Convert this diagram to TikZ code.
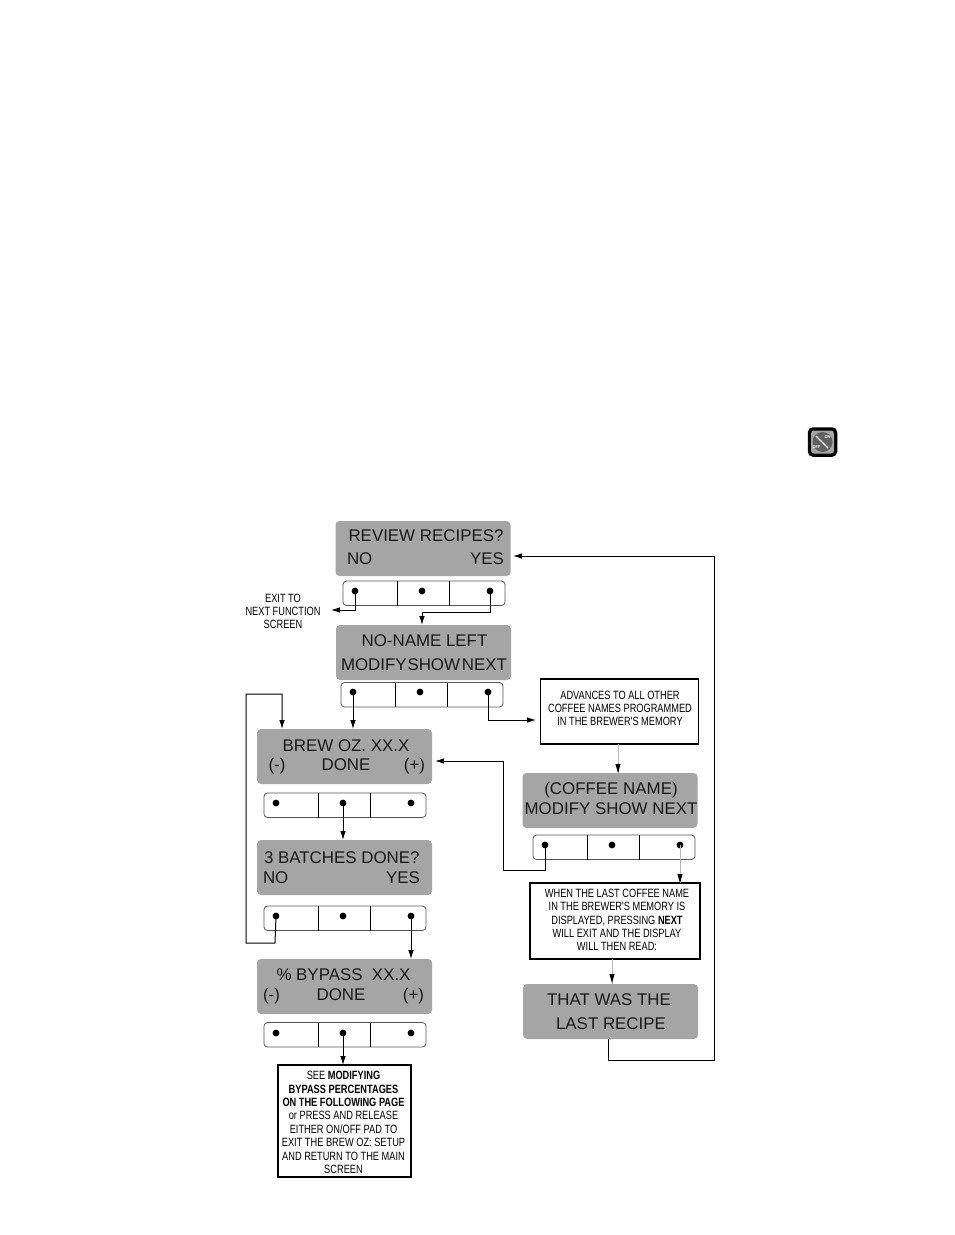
\documentclass[tikz,border=0pt]{standalone}
\usepackage{fontspec}
\usetikzlibrary{arrows.meta,calc}
\setmainfont{Liberation Sans}
\newfontfamily\narrowfont[FakeStretch=0.77]{Liberation Sans}
\definecolor{lcd}{HTML}{A5A5A5}
\definecolor{keyedge}{HTML}{555555}
\definecolor{faint}{HTML}{B8B8B8}
\tikzset{
  every node/.style={outer sep=0pt},
  lcdbox/.style={fill=lcd,rounded corners=4pt,minimum width=#1,minimum height=55pt,inner sep=0pt,anchor=north west},
  lcdbox/.default=175pt,
  lcdtext/.style={font=\fontsize{16.9}{20}\selectfont,text=black!90,inner sep=0pt,anchor=base},
  lcdleft/.style={lcdtext,anchor=base west},
  lcdright/.style={lcdtext,anchor=base east},
  keyframe/.style={draw=keyedge,line width=.8pt,rounded corners=3.5pt,minimum width=162pt,minimum height=24.5pt,inner sep=0pt,anchor=north west},
  keydiv/.style={draw=black,line width=.9pt},
  keydot/.style={circle,fill=black,minimum size=6.8pt,inner sep=0pt},
  notebox/.style={draw=black,fill=white,line width=1.8pt,inner sep=0pt,anchor=north west},
  notetext/.style={inner sep=0pt,align=center,text=black,font=\narrowfont\fontsize{12}{13.35}\selectfont},
  smalltext/.style={inner sep=0pt,align=center,text=black,font=\narrowfont\fontsize{12}{13.2}\selectfont},
  flow/.style={draw=black,line width=1pt,-{Latex[length=9pt,width=5.6pt]}},
  flowfaint/.style={draw=faint,line width=.8pt},
  tipfaint/.style={draw=none,fill=black},
}
\newcommand{\keypad}[4]{% name, left x, top y, dot y
  \node[keyframe] (#1) at (#2,#3) {};
  \draw[keydiv] ($(#1.north west)+(54.5,0)$) -- ($(#1.south west)+(54.5,0)$);
  \draw[keydiv] ($(#1.north west)+(106.5,0)$) -- ($(#1.south west)+(106.5,0)$);
  \node[keydot] (#1a) at ($(#2,#4)+(12,0)$) {};
  \node[keydot] (#1b) at ($(#2,#4)+(79,0)$) {};
  \node[keydot] (#1c) at ($(#2,#4)+(147,0)$) {};
}
\begin{document}
\begin{tikzpicture}[x=1pt,y=-1pt]
\useasboundingbox (0,0) rectangle (954,1235);
% icon
\node[fill=black,rounded corners=5pt,minimum size=29.5pt,inner sep=0pt] (ico) at (822.5,442) {};
\node[fill=gray!70,rounded corners=3pt,minimum size=23pt,inner sep=0pt] (icoin) at (ico) {};
\node[circle,fill=black!62,minimum size=20pt,inner sep=0pt] (icoc) at (ico) {};
\draw[white,line width=1.4pt] (816,436) -- (828,448);
\node[inner sep=0pt,text=white,font=\bfseries\fontsize{4}{4}\selectfont] (icoon) at (827.5,437.5) {ON};
\node[inner sep=0pt,text=white,font=\bfseries\fontsize{4}{4}\selectfont] (icooff) at (816.5,447.5) {OFF};
% screens
\node[lcdbox] (s1) at (335.5,521) {};
\node[lcdtext] (s1t) at (426,541) {REVIEW RECIPES?};
\node[lcdleft] (s1l) at (347,564) {NO};
\node[lcdright] (s1r) at (504,564) {YES};
\keypad{ka}{343}{581}{591}
\node[lcdbox] (s2) at (336,625) {};
\node[lcdtext] (s2t) at (424.5,646) {NO-NAME LEFT};
\node[lcdleft] (s2l) at (341,670) {MODIFY};
\node[lcdleft] (s2m) at (407.5,670) {SHOW};
\node[lcdright] (s2r) at (507,670) {NEXT};
\keypad{kb}{341}{682.5}{692}
\node[lcdbox] (s3) at (257,729) {};
\node[lcdtext] (s3t) at (346,751) {BREW OZ. XX.X};
\node[lcdleft] (s3l) at (268.5,770) {(-)};
\node[lcdtext] (s3m) at (346,770) {DONE};
\node[lcdright] (s3r) at (425,770) {(+)};
\keypad{kc}{264}{793}{803}
\node[lcdbox] (s4) at (257,840) {};
\node[lcdleft] (s4t) at (264,863) {3 BATCHES DONE?};
\node[lcdleft] (s4l) at (263,883) {NO};
\node[lcdright] (s4r) at (420,883) {YES};
\keypad{kd}{264}{906}{916}
\node[lcdbox] (s5) at (257,959) {};
\node[lcdtext] (s5t) at (343.5,980) {\%\ BYPASS\ \ XX.X};
\node[lcdleft] (s5l) at (263,1000) {(-)};
\node[lcdtext] (s5m) at (341,1000) {DONE};
\node[lcdright] (s5r) at (424,1000) {(+)};
\keypad{ke}{264}{1022.5}{1033}
\node[lcdbox] (s6) at (522.5,773) {};
\node[lcdtext] (s6t) at (611,794.5) {(COFFEE NAME)};
\node[lcdtext] (s6b) at (611,814) {MODIFY SHOW NEXT};
\keypad{kf}{533}{835}{845}
\node[lcdbox] (s7) at (523,984) {};
\node[lcdtext] (s7t) at (609,1005) {THAT WAS THE};
\node[lcdtext] (s7b) at (611,1029) {LAST RECIPE};
% notes
\node[notebox,minimum width=158pt,minimum height=65pt] (na) at (540.5,679) {};
\node[notetext] (nat) at (620,708.5) {ADVANCES TO ALL OTHER\\COFFEE NAMES PROGRAMMED\\IN THE BREWER'S MEMORY};
\node[notebox,minimum width=170pt,minimum height=76pt] (nb) at (530,883) {};
\node[notetext] (nbt) at (617,920) {WHEN THE LAST COFFEE NAME\\IN THE BREWER'S MEMORY IS\\DISPLAYED, PRESSING \textbf{NEXT}\\WILL EXIT AND THE DISPLAY\\WILL THEN READ:};
\node[notebox,line width=1.4pt,minimum width=133pt,minimum height=112pt] (nc) at (278,1065) {};
\node[notetext] (nct) at (343.5,1122.5) {SEE \textbf{MODIFYING}\\\textbf{BYPASS PERCENTAGES}\\\textbf{ON THE FOLLOWING PAGE}\\or PRESS AND RELEASE\\EITHER ON/OFF PAD TO\\EXIT THE BREW OZ: SETUP\\AND RETURN TO THE MAIN\\SCREEN};
\node[smalltext] (exit) at (283,611.5) {EXIT TO\\NEXT FUNCTION\\SCREEN};
% free connector ends
\coordinate (exitend) at (331,610);
\coordinate (naend) at (536,720);
\coordinate (s1end) at (513,556);
\coordinate (s3end) at (435,761);
\coordinate (loopa) at (246,943);
\coordinate (loopb) at (246,694);
\coordinate (s3top) at (282,729);
\coordinate (fa) at (503,870);
\coordinate (fb) at (503,761);
\coordinate (lasta) at (608,1060);
\coordinate (lastb) at (714,1060);
\coordinate (lastc) at (714,556);
\coordinate (s7out) at (608,1039);
\coordinate (kcmid) at (422,612);
\coordinate (kdlow) at (275,943);
\coordinate (kamid) at (355,610);
\coordinate (kbr) at (488,720);
\coordinate (kfl) at (545,870);
% connectors
\draw[flow] (kaa.center) -- (kamid) -- (exitend);
\draw[flow] (kac.center) -- (kac |- kcmid) -- (kcmid) -- (kcmid |- s2.north);
\draw[flow] (kba.center) -- (kba |- s3.north);
\draw[flow] (kbc.center) -- (kbr) -- (naend);
\draw[flow] (kcb.center) -- (kcb |- s4.north);
\draw[flow] (kdc.center) -- (kdc |- s5.north);
\draw[flow] (keb.center) -- (keb |- nc.north);
\draw[flow] (kda.center) -- (kdlow) -- (loopa) -- (loopb) -- (s3top |- loopb) -- (s3top);
\draw[flow] (kfa.center) -- (kfl) -- (fa) -- (fb) -- (s3end);
\draw[flow] (s7out) -- (lasta) -- (lastb) -- (lastc) -- (s1end);
% faint connectors with dark tips
\coordinate (nas) at (618,744);
\draw[flowfaint] (nas) -- (nas |- s6.north);
\draw[tipfaint,fill=black] (nas |- s6.north) -- +(-2.6,-9) -- +(2.6,-9) -- cycle;
\draw[flowfaint] (kfc.center) -- (kfc |- nb.north);
\draw[tipfaint,fill=black] (kfc |- nb.north) -- +(-2.6,-9) -- +(2.6,-9) -- cycle;
\coordinate (nbs) at (612,959);
\draw[flowfaint] (nbs) -- (nbs |- s7.north);
\draw[tipfaint,fill=black] ($(nbs |- s7.north)+(0,-1)$) -- +(-2.6,-9) -- +(2.6,-9) -- cycle;
\end{tikzpicture}
\end{document}
